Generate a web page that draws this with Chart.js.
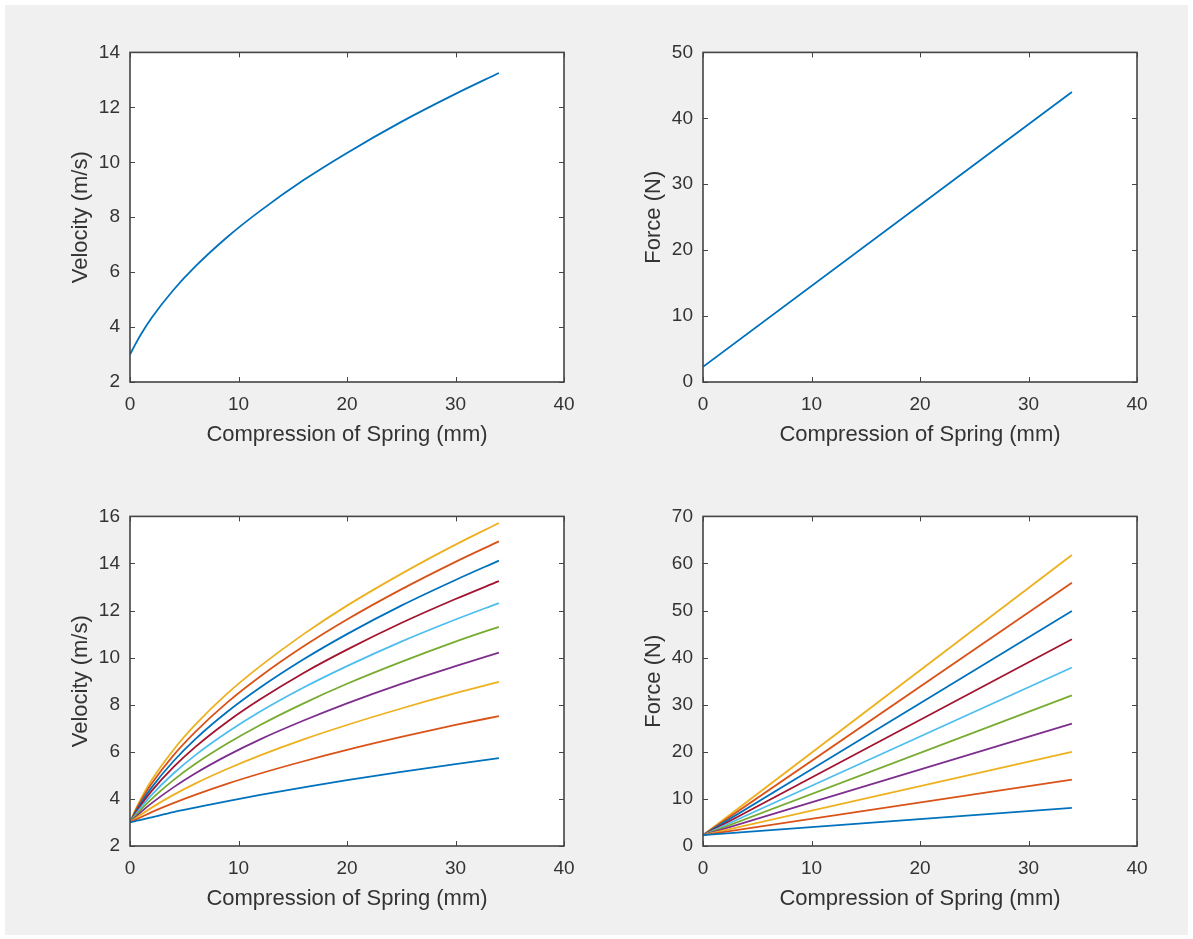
<!DOCTYPE html>
<html>
<head>
<meta charset="utf-8">
<script src="https://cdn.jsdelivr.net/npm/chart.js@4/dist/chart.umd.min.js"></script>
<style>
  body { margin: 0; background: #ffffff; }
  #figure { position: absolute; left: 5px; top: 5px; width: 1183px; height: 930px; background: #f0f0f0; }
  canvas { position: absolute; }
</style>
</head>
<body>
<div id="figure"></div>
<canvas id="velTop"></canvas>
<canvas id="forceTop"></canvas>
<canvas id="velBottom"></canvas>
<canvas id="forceBottom"></canvas>
<script>
// compression of spring (mm) where the curves were read
const compression = [0, 0.5, 1, 2, 4, 6, 9, 12, 16, 20, 25, 30, 34];

// top left: single velocity curve (m/s)
const velocitySingle = [3.0, 3.38, 3.73, 4.34, 5.35, 6.2, 7.29, 8.23, 9.35, 10.34, 11.47, 12.49, 13.25];

// top right: single force line (N), read at its two ends
const forceX = [0, 34];
const forceSingle = [2.3, 44.0];

// bottom left: family of velocity curves, lowest first
const velocityFamily = [
  [3.0, 3.06, 3.11, 3.22, 3.44, 3.63, 3.91, 4.17, 4.49, 4.8, 5.15, 5.48, 5.73],
  [3.0, 3.11, 3.22, 3.44, 3.82, 4.17, 4.65, 5.08, 5.6, 6.08, 6.63, 7.14, 7.52],
  [3.0, 3.17, 3.33, 3.63, 4.17, 4.65, 5.28, 5.85, 6.53, 7.14, 7.84, 8.49, 8.97],
  [3.0, 3.22, 3.44, 3.82, 4.49, 5.08, 5.85, 6.53, 7.33, 8.06, 8.89, 9.64, 10.21],
  [3.0, 3.28, 3.54, 4.0, 4.8, 5.48, 6.36, 7.14, 8.06, 8.89, 9.82, 10.68, 11.31],
  [3.0, 3.33, 3.63, 4.17, 5.08, 5.85, 6.84, 7.71, 8.73, 9.64, 10.68, 11.62, 12.32],
  [3.0, 3.38, 3.73, 4.34, 5.35, 6.2, 7.29, 8.23, 9.35, 10.34, 11.47, 12.49, 13.25],
  [3.0, 3.44, 3.82, 4.49, 5.6, 6.53, 7.71, 8.73, 9.93, 11.0, 12.21, 13.3, 14.12],
  [3.0, 3.49, 3.91, 4.65, 5.85, 6.84, 8.11, 9.2, 10.48, 11.62, 12.9, 14.07, 14.94],
  [3.0, 3.54, 4.0, 4.8, 6.08, 7.14, 8.49, 9.64, 11.0, 12.21, 13.56, 14.8, 15.72],
];

// bottom right: family of force lines, all starting at the same point
const forceStart = 2.3;
const forceEnds = [8.1, 14.1, 20.0, 26.0, 32.0, 37.9, 43.9, 49.9, 55.9, 61.8];

// MATLAB default line colours
const lineColors = ['#0072BD', '#D95319', '#EDB120', '#7E2F8E', '#77AC30', '#4DBEEE', '#A2142F'];

const TEXT_COLOR = '#333333';
const AXIS_COLOR = '#444444';
const BOX_W = 434;
const BOX_H = 331;
const Y_AXIS_W = 70;
const X_AXIS_H = 70;
const PAD_TOP = 20;
const PAD_RIGHT = 30;

Chart.defaults.font.family = '"Liberation Sans", Arial, sans-serif';
Chart.defaults.color = TEXT_COLOR;

// white plot area, inward ticks on all four sides and a closed box
const matlabAxes = {
  id: 'matlabAxes',
  beforeDraw(chart) {
    const { ctx, chartArea: a } = chart;
    ctx.save();
    ctx.fillStyle = '#ffffff';
    ctx.fillRect(a.left, a.top, a.width, a.height);
    ctx.restore();
  },
  afterDraw(chart) {
    const { ctx, chartArea: a, scales } = chart;
    ctx.save();
    ctx.strokeStyle = AXIS_COLOR;
    ctx.lineWidth = 1;
    ctx.beginPath();
    scales.x.ticks.forEach((t) => {
      const px = Math.round(scales.x.getPixelForValue(t.value)) + 0.5;
      ctx.moveTo(px, a.bottom); ctx.lineTo(px, a.bottom - 5);
      ctx.moveTo(px, a.top); ctx.lineTo(px, a.top + 5);
    });
    scales.y.ticks.forEach((t) => {
      const py = Math.round(scales.y.getPixelForValue(t.value)) + 0.5;
      ctx.moveTo(a.left, py); ctx.lineTo(a.left + 5, py);
      ctx.moveTo(a.right, py); ctx.lineTo(a.right - 5, py);
    });
    ctx.stroke();
    ctx.lineWidth = 1.6;
    ctx.strokeRect(a.left, a.top, a.width, a.height);
    ctx.restore();
  },
};

function makeChart(id, boxLeft, boxTop, datasets, yMin, yMax, yStep, yTitle) {
  const el = document.getElementById(id);
  el.width = Y_AXIS_W + BOX_W + PAD_RIGHT;
  el.height = PAD_TOP + BOX_H + X_AXIS_H;
  el.style.left = (boxLeft - Y_AXIS_W) + 'px';
  el.style.top = (boxTop - PAD_TOP) + 'px';
  return new Chart(el, {
    type: 'line',
    data: { datasets },
    plugins: [matlabAxes],
    options: {
      responsive: false,
      animation: false,
      devicePixelRatio: 1,
      layout: { padding: { left: 0, top: PAD_TOP, right: PAD_RIGHT, bottom: 0 } },
      plugins: { legend: { display: false }, tooltip: { enabled: false } },
      elements: { point: { radius: 0 } },
      scales: {
        x: {
          type: 'linear',
          min: 0,
          max: 40,
          grid: { display: false, drawTicks: false },
          border: { display: false },
          ticks: { stepSize: 10, padding: 11, font: { size: 19 }, maxRotation: 0 },
          title: {
            display: true,
            text: 'Compression of Spring (mm)',
            font: { size: 22 },
            padding: { top: 0, bottom: 4 },
          },
          afterFit(scale) { scale.height = X_AXIS_H; },
        },
        y: {
          min: yMin,
          max: yMax,
          grid: { display: false, drawTicks: false },
          border: { display: false },
          ticks: { stepSize: yStep, padding: 10, font: { size: 19 } },
          title: {
            display: true,
            text: yTitle,
            font: { size: 22 },
            padding: { top: 8, bottom: 0 },
          },
          afterFit(scale) { scale.width = Y_AXIS_W; },
        },
      },
    },
  });
}

function series(xs, ys, color) {
  return {
    data: xs.map((x, i) => ({ x, y: ys[i] })),
    borderColor: color,
    borderWidth: 1.8,
    fill: false,
    cubicInterpolationMode: 'monotone',
  };
}

makeChart('velTop', 130, 51,
  [series(compression, velocitySingle, lineColors[0])],
  2, 14, 2, 'Velocity (m/s)');

makeChart('forceTop', 703, 51,
  [series(forceX, forceSingle, lineColors[0])],
  0, 50, 10, 'Force (N)');

makeChart('velBottom', 130, 515,
  velocityFamily.map((ys, i) => series(compression, ys, lineColors[i % lineColors.length])),
  2, 16, 2, 'Velocity (m/s)');

makeChart('forceBottom', 703, 515,
  forceEnds.map((end, i) => series(forceX, [forceStart, end], lineColors[i % lineColors.length])),
  0, 70, 10, 'Force (N)');
</script>
</body>
</html>
